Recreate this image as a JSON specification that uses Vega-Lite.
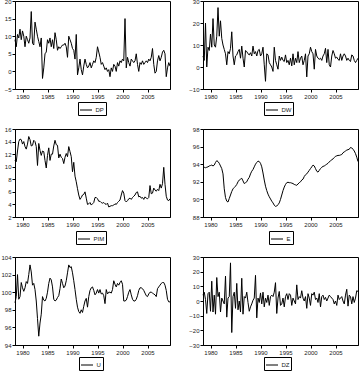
{
  "$schema": "https://vega.github.io/schema/vega-lite/v6.json",
  "padding": {"left": 0, "top": -3, "right": 0, "bottom": 0},
  "data": {"values": [
    {"t":1978.5,"DP":9,"DW":5,"PIM":11,"E":93.7,"U":98.8,"DZ":4},
    {"t":1978.75,"DP":7,"DW":3,"PIM":10.8,"E":93.65,"U":99.5,"DZ":6},
    {"t":1979,"DP":10.5,"DW":20,"PIM":12.5,"E":93.6,"U":102,"DZ":1},
    {"t":1979.25,"DP":9.5,"DW":0,"PIM":14,"E":93.65,"U":99.2,"DZ":-8.5},
    {"t":1979.5,"DP":12,"DW":9,"PIM":14.4,"E":93.7,"U":99.5,"DZ":5},
    {"t":1979.75,"DP":9,"DW":7.5,"PIM":14.3,"E":93.8,"U":101.1,"DZ":6},
    {"t":1980,"DP":11.5,"DW":15,"PIM":13.6,"E":93.85,"U":100.5,"DZ":-7},
    {"t":1980.25,"DP":10,"DW":9,"PIM":14,"E":93.9,"U":100.1,"DZ":13.5},
    {"t":1980.5,"DP":7,"DW":22,"PIM":13.2,"E":93.8,"U":100.5,"DZ":-7.5},
    {"t":1980.75,"DP":10,"DW":10,"PIM":12.8,"E":93.9,"U":101.2,"DZ":4},
    {"t":1981,"DP":9,"DW":9,"PIM":13.6,"E":94.2,"U":101,"DZ":-9},
    {"t":1981.25,"DP":8,"DW":14,"PIM":14.8,"E":94.4,"U":102,"DZ":16},
    {"t":1981.5,"DP":9.5,"DW":27,"PIM":14.3,"E":94.3,"U":103.1,"DZ":3},
    {"t":1981.75,"DP":17,"DW":14,"PIM":13.3,"E":94.1,"U":102.3,"DZ":6},
    {"t":1982,"DP":8,"DW":21,"PIM":13.4,"E":93.8,"U":100.8,"DZ":-7.5},
    {"t":1982.25,"DP":7.5,"DW":13,"PIM":14.2,"E":93.5,"U":101,"DZ":2},
    {"t":1982.5,"DP":14,"DW":10,"PIM":14,"E":92.9,"U":100.3,"DZ":0},
    {"t":1982.75,"DP":12,"DW":8,"PIM":13.2,"E":91.2,"U":99,"DZ":-2},
    {"t":1983,"DP":10,"DW":6,"PIM":10.2,"E":90.2,"U":97,"DZ":17},
    {"t":1983.25,"DP":8.5,"DW":1,"PIM":13.7,"E":89.8,"U":95,"DZ":-11},
    {"t":1983.5,"DP":7,"DW":7,"PIM":12.6,"E":89.7,"U":96.5,"DZ":2},
    {"t":1983.75,"DP":9.5,"DW":6,"PIM":11.8,"E":90.1,"U":97.5,"DZ":3},
    {"t":1984,"DP":-2,"DW":8.5,"PIM":12.5,"E":90.5,"U":99.5,"DZ":26},
    {"t":1984.25,"DP":1,"DW":16,"PIM":12.4,"E":90.9,"U":99.1,"DZ":-21.5},
    {"t":1984.5,"DP":5,"DW":5,"PIM":11,"E":91.2,"U":99,"DZ":3},
    {"t":1984.75,"DP":5.5,"DW":1,"PIM":9.8,"E":91.35,"U":99.3,"DZ":6},
    {"t":1985,"DP":9,"DW":5,"PIM":11.8,"E":91.5,"U":100,"DZ":-5},
    {"t":1985.25,"DP":8,"DW":5.5,"PIM":13,"E":91.7,"U":101,"DZ":12},
    {"t":1985.5,"DP":9.5,"DW":7,"PIM":11,"E":92,"U":101.6,"DZ":-6},
    {"t":1985.75,"DP":7,"DW":8,"PIM":12,"E":92.2,"U":101.4,"DZ":0},
    {"t":1986,"DP":9,"DW":4,"PIM":12,"E":92.3,"U":100.6,"DZ":-7.5},
    {"t":1986.25,"DP":6.5,"DW":9.5,"PIM":13.3,"E":92.4,"U":99.2,"DZ":15.5},
    {"t":1986.5,"DP":11,"DW":4,"PIM":14.2,"E":92.1,"U":99,"DZ":-9},
    {"t":1986.75,"DP":9,"DW":0,"PIM":13.5,"E":91.8,"U":99.1,"DZ":3},
    {"t":1987,"DP":6,"DW":7.5,"PIM":13.4,"E":91.9,"U":99.4,"DZ":2},
    {"t":1987.25,"DP":7,"DW":7,"PIM":11.4,"E":92,"U":99.6,"DZ":6},
    {"t":1987.5,"DP":6.5,"DW":6,"PIM":12,"E":92.3,"U":100.4,"DZ":-1},
    {"t":1987.75,"DP":7,"DW":5.5,"PIM":11.5,"E":92.5,"U":101.5,"DZ":-7},
    {"t":1988,"DP":7.5,"DW":6.5,"PIM":11.3,"E":92.9,"U":101,"DZ":-4},
    {"t":1988.25,"DP":7.5,"DW":5,"PIM":10.5,"E":93.2,"U":100.5,"DZ":-2},
    {"t":1988.5,"DP":8,"DW":9.5,"PIM":11.5,"E":93.4,"U":100.7,"DZ":0.5},
    {"t":1988.75,"DP":7,"DW":6,"PIM":12.1,"E":93.7,"U":101.3,"DZ":2},
    {"t":1989,"DP":4,"DW":7,"PIM":11.6,"E":94,"U":102.2,"DZ":17.5},
    {"t":1989.25,"DP":10,"DW":5,"PIM":13.2,"E":94.2,"U":103.1,"DZ":-11.5},
    {"t":1989.5,"DP":9,"DW":7.5,"PIM":12.4,"E":94.35,"U":102.8,"DZ":2},
    {"t":1989.75,"DP":8,"DW":8,"PIM":11.6,"E":94.3,"U":102.9,"DZ":-1},
    {"t":1990,"DP":6.5,"DW":5,"PIM":9.2,"E":94.1,"U":102.2,"DZ":5.5},
    {"t":1990.25,"DP":6,"DW":6,"PIM":10.7,"E":93.7,"U":101.3,"DZ":-2},
    {"t":1990.5,"DP":3.5,"DW":9,"PIM":8.5,"E":93,"U":100.3,"DZ":6},
    {"t":1990.75,"DP":10.5,"DW":1,"PIM":7.6,"E":92.2,"U":99.2,"DZ":-4},
    {"t":1991,"DP":-1,"DW":-6.5,"PIM":6.5,"E":91.5,"U":98.3,"DZ":2},
    {"t":1991.25,"DP":1,"DW":6,"PIM":5.5,"E":91,"U":97.8,"DZ":-1},
    {"t":1991.5,"DP":3.5,"DW":5.5,"PIM":4.8,"E":90.6,"U":97.6,"DZ":4},
    {"t":1991.75,"DP":0.5,"DW":2,"PIM":5.1,"E":90.3,"U":98,"DZ":-3},
    {"t":1992,"DP":-1,"DW":1,"PIM":5.5,"E":90.05,"U":97.7,"DZ":3},
    {"t":1992.25,"DP":1.5,"DW":0,"PIM":5.6,"E":89.8,"U":98.4,"DZ":4},
    {"t":1992.5,"DP":3.5,"DW":-2,"PIM":6,"E":89.6,"U":99,"DZ":3},
    {"t":1992.75,"DP":2,"DW":9,"PIM":5,"E":89.35,"U":99.3,"DZ":6},
    {"t":1993,"DP":1,"DW":3,"PIM":4,"E":89.2,"U":98.3,"DZ":12.5},
    {"t":1993.25,"DP":1.5,"DW":1,"PIM":4.1,"E":89.25,"U":99.5,"DZ":-8.5},
    {"t":1993.5,"DP":2.5,"DW":-1,"PIM":4.3,"E":89.4,"U":100.2,"DZ":2},
    {"t":1993.75,"DP":1,"DW":5,"PIM":3.9,"E":89.6,"U":100.5,"DZ":6.5},
    {"t":1994,"DP":2,"DW":3,"PIM":4.1,"E":90,"U":100.6,"DZ":-3},
    {"t":1994.25,"DP":3,"DW":4.5,"PIM":4.3,"E":90.5,"U":100.2,"DZ":-2},
    {"t":1994.5,"DP":2.5,"DW":3,"PIM":5.1,"E":91,"U":99.7,"DZ":2},
    {"t":1994.75,"DP":4,"DW":2.5,"PIM":5.1,"E":91.4,"U":99.9,"DZ":-4},
    {"t":1995,"DP":7,"DW":5.5,"PIM":4.9,"E":91.7,"U":100.3,"DZ":3},
    {"t":1995.25,"DP":5.5,"DW":2,"PIM":4.5,"E":91.9,"U":99.9,"DZ":5},
    {"t":1995.5,"DP":4,"DW":3,"PIM":4.5,"E":91.95,"U":100.3,"DZ":1},
    {"t":1995.75,"DP":2,"DW":1,"PIM":4.3,"E":91.9,"U":99.8,"DZ":5},
    {"t":1996,"DP":2.5,"DW":4,"PIM":4.2,"E":91.9,"U":99.9,"DZ":4},
    {"t":1996.25,"DP":1.5,"DW":0.5,"PIM":4.3,"E":91.85,"U":99.6,"DZ":-3},
    {"t":1996.5,"DP":0.5,"DW":6,"PIM":4.1,"E":91.8,"U":98.7,"DZ":2},
    {"t":1996.75,"DP":1,"DW":1,"PIM":4,"E":91.7,"U":100.3,"DZ":0},
    {"t":1997,"DP":0,"DW":4,"PIM":4.2,"E":91.65,"U":99.8,"DZ":-2},
    {"t":1997.25,"DP":0.5,"DW":2,"PIM":3.6,"E":91.6,"U":100,"DZ":11},
    {"t":1997.5,"DP":-1.5,"DW":7,"PIM":3.7,"E":91.75,"U":100,"DZ":1},
    {"t":1997.75,"DP":1,"DW":2,"PIM":3.8,"E":91.9,"U":99.9,"DZ":3},
    {"t":1998,"DP":0,"DW":4,"PIM":3.8,"E":92,"U":100.3,"DZ":2},
    {"t":1998.25,"DP":2,"DW":5,"PIM":3.9,"E":92.2,"U":101.3,"DZ":7},
    {"t":1998.5,"DP":1.5,"DW":1,"PIM":4.1,"E":92.3,"U":100.9,"DZ":2},
    {"t":1998.75,"DP":0,"DW":3,"PIM":4,"E":92.6,"U":100.6,"DZ":0},
    {"t":1999,"DP":2.5,"DW":6,"PIM":4.3,"E":92.8,"U":101,"DZ":3},
    {"t":1999.25,"DP":1.5,"DW":-4.5,"PIM":4.5,"E":92.9,"U":100.8,"DZ":-5},
    {"t":1999.5,"DP":3,"DW":5,"PIM":4.7,"E":93.1,"U":101.1,"DZ":5},
    {"t":1999.75,"DP":2.5,"DW":6,"PIM":5.5,"E":93.3,"U":101.3,"DZ":2},
    {"t":2000,"DP":3.5,"DW":9,"PIM":6.2,"E":93.5,"U":100.9,"DZ":-3},
    {"t":2000.25,"DP":3,"DW":7,"PIM":5.8,"E":93.7,"U":99,"DZ":5},
    {"t":2000.5,"DP":15,"DW":6,"PIM":4.6,"E":93.9,"U":99,"DZ":4},
    {"t":2000.75,"DP":1,"DW":-1,"PIM":4.4,"E":93.8,"U":99.1,"DZ":6},
    {"t":2001,"DP":4,"DW":8,"PIM":4.6,"E":93.5,"U":99.5,"DZ":1},
    {"t":2001.25,"DP":2.5,"DW":5,"PIM":4.9,"E":93.2,"U":100,"DZ":2},
    {"t":2001.5,"DP":1.5,"DW":4,"PIM":5,"E":93.1,"U":100.3,"DZ":-1},
    {"t":2001.75,"DP":3.5,"DW":3.5,"PIM":4.8,"E":93.3,"U":99.7,"DZ":5},
    {"t":2002,"DP":3,"DW":4,"PIM":5.1,"E":93.5,"U":99.2,"DZ":-4},
    {"t":2002.25,"DP":2.5,"DW":3,"PIM":5.3,"E":93.65,"U":99,"DZ":3},
    {"t":2002.5,"DP":3,"DW":5,"PIM":5.5,"E":93.75,"U":99,"DZ":4},
    {"t":2002.75,"DP":5,"DW":6,"PIM":5.9,"E":93.8,"U":99.2,"DZ":1},
    {"t":2003,"DP":2,"DW":8.5,"PIM":6,"E":93.9,"U":99.6,"DZ":2.5},
    {"t":2003.25,"DP":0,"DW":2,"PIM":5.2,"E":94,"U":100.2,"DZ":0},
    {"t":2003.5,"DP":2.5,"DW":8,"PIM":5.3,"E":94.1,"U":100.5,"DZ":2},
    {"t":2003.75,"DP":2,"DW":1,"PIM":5,"E":94.25,"U":100.5,"DZ":4},
    {"t":2004,"DP":3,"DW":0,"PIM":5.1,"E":94.4,"U":100.4,"DZ":3},
    {"t":2004.25,"DP":2,"DW":5,"PIM":4.8,"E":94.5,"U":100.2,"DZ":2},
    {"t":2004.5,"DP":2.5,"DW":7.5,"PIM":5.2,"E":94.6,"U":99.9,"DZ":1},
    {"t":2004.75,"DP":3,"DW":6,"PIM":5,"E":94.75,"U":99.6,"DZ":-2},
    {"t":2005,"DP":2.5,"DW":4,"PIM":4.9,"E":94.9,"U":99.5,"DZ":0},
    {"t":2005.25,"DP":3.5,"DW":4.5,"PIM":5.1,"E":94.95,"U":99.8,"DZ":-3},
    {"t":2005.5,"DP":3,"DW":3.5,"PIM":7,"E":95,"U":100,"DZ":4},
    {"t":2005.75,"DP":4,"DW":3,"PIM":5.7,"E":95,"U":100,"DZ":1},
    {"t":2006,"DP":6.5,"DW":6,"PIM":5.8,"E":95.05,"U":99.9,"DZ":2},
    {"t":2006.25,"DP":2,"DW":3,"PIM":6.6,"E":95.1,"U":99.8,"DZ":3},
    {"t":2006.5,"DP":-0.5,"DW":5,"PIM":6.3,"E":95.3,"U":99.7,"DZ":0},
    {"t":2006.75,"DP":0,"DW":6,"PIM":6.1,"E":95.4,"U":99.5,"DZ":-2},
    {"t":2007,"DP":3,"DW":5,"PIM":6.4,"E":95.5,"U":100.4,"DZ":4},
    {"t":2007.25,"DP":4.5,"DW":3,"PIM":6.2,"E":95.6,"U":100.6,"DZ":8},
    {"t":2007.5,"DP":3,"DW":4,"PIM":7.2,"E":95.65,"U":100.8,"DZ":-3.5},
    {"t":2007.75,"DP":4,"DW":3,"PIM":6.6,"E":95.7,"U":101,"DZ":4},
    {"t":2008,"DP":5.5,"DW":2.5,"PIM":7.3,"E":95.9,"U":101.1,"DZ":3},
    {"t":2008.25,"DP":6,"DW":5.5,"PIM":9.9,"E":95.85,"U":101.1,"DZ":-2},
    {"t":2008.5,"DP":5,"DW":5,"PIM":7.2,"E":95.7,"U":100.8,"DZ":3},
    {"t":2008.75,"DP":-1.5,"DW":3,"PIM":5.3,"E":95.5,"U":100.2,"DZ":-1},
    {"t":2009,"DP":1,"DW":2,"PIM":4.7,"E":95.2,"U":99.2,"DZ":2},
    {"t":2009.25,"DP":2.5,"DW":3,"PIM":4.6,"E":94.8,"U":98.9,"DZ":7},
    {"t":2009.5,"DP":1.5,"DW":4,"PIM":4.9,"E":94.3,"U":98.9,"DZ":6.5}
  ]},
  "config": {
    "font": "Liberation Sans",
    "view": {"stroke": "black", "strokeWidth": 1},
    "axis": {"labelFontSize": 6, "labelColor": "#222", "labelFont": "Liberation Sans", "domainColor": "black", "tickColor": "black", "tickSize": 3, "labelPadding": 1, "grid": false, "title": null},
    "legend": {"strokeColor": "black", "fillColor": "white", "padding": 1.5, "symbolType": "stroke", "symbolSize": 144, "symbolStrokeWidth": 1, "labelFontSize": 6, "labelFont": "Liberation Sans", "labelColor": "#222", "title": null, "symbolOffset": 0, "labelOffset": 3, "direction": "horizontal"}
  },
  "columns": 2,
  "spacing": {"row": 40, "column": 33},
  "bounds": "flush",
  "resolve": {"scale": {"y": "independent", "color": "independent"}, "legend": {"color": "independent"}},
  "concat": [
    {"width": 155, "height": 88, "mark": {"type": "line", "strokeWidth": 1},
     "encoding": {
       "x": {"field": "t", "type": "quantitative", "scale": {"domain": [1978.5, 2009.5], "nice": false, "zero": false}, "axis": {"values": [1980,1985,1990,1995,2000,2005], "format": "d"}},
       "y": {"field": "DP", "type": "quantitative", "scale": {"domain": [-5, 20], "nice": false, "zero": false}, "axis": {"values": [-5,0,5,10,15,20]}},
       "color": {"datum": "DP", "scale": {"range": ["black"]}, "legend": {"orient": "none", "legendX": 63, "legendY": 101}}
     }},
    {"width": 155, "height": 88, "mark": {"type": "line", "strokeWidth": 1},
     "encoding": {
       "x": {"field": "t", "type": "quantitative", "scale": {"domain": [1978.5, 2009.5], "nice": false, "zero": false}, "axis": {"values": [1980,1985,1990,1995,2000,2005], "format": "d"}},
       "y": {"field": "DW", "type": "quantitative", "scale": {"domain": [-10, 30], "nice": false, "zero": false}, "axis": {"values": [-10,0,10,20,30]}},
       "color": {"datum": "DW", "scale": {"range": ["black"]}, "legend": {"orient": "none", "legendX": 61, "legendY": 101}}
     }},
    {"width": 155, "height": 88, "mark": {"type": "line", "strokeWidth": 1},
     "encoding": {
       "x": {"field": "t", "type": "quantitative", "scale": {"domain": [1978.5, 2009.5], "nice": false, "zero": false}, "axis": {"values": [1980,1985,1990,1995,2000,2005], "format": "d"}},
       "y": {"field": "PIM", "type": "quantitative", "scale": {"domain": [2, 16], "nice": false, "zero": false}, "axis": {"values": [2,4,6,8,10,12,14,16]}},
       "color": {"datum": "PIM", "scale": {"range": ["black"]}, "legend": {"orient": "none", "legendX": 61, "legendY": 102}}
     }},
    {"width": 155, "height": 88, "mark": {"type": "line", "strokeWidth": 1},
     "encoding": {
       "x": {"field": "t", "type": "quantitative", "scale": {"domain": [1978.5, 2009.5], "nice": false, "zero": false}, "axis": {"values": [1980,1985,1990,1995,2000,2005], "format": "d"}},
       "y": {"field": "E", "type": "quantitative", "scale": {"domain": [88, 98], "nice": false, "zero": false}, "axis": {"values": [88,90,92,94,96,98]}},
       "color": {"datum": "E", "scale": {"range": ["black"]}, "legend": {"orient": "none", "legendX": 66, "legendY": 102}}
     }},
    {"width": 155, "height": 88, "mark": {"type": "line", "strokeWidth": 1},
     "encoding": {
       "x": {"field": "t", "type": "quantitative", "scale": {"domain": [1978.5, 2009.5], "nice": false, "zero": false}, "axis": {"values": [1980,1985,1990,1995,2000,2005], "format": "d"}},
       "y": {"field": "U", "type": "quantitative", "scale": {"domain": [94, 104], "nice": false, "zero": false}, "axis": {"values": [94,96,98,100,102,104]}},
       "color": {"datum": "U", "scale": {"range": ["black"]}, "legend": {"orient": "none", "legendX": 64, "legendY": 100}}
     }},
    {"width": 155, "height": 88, "mark": {"type": "line", "strokeWidth": 1},
     "encoding": {
       "x": {"field": "t", "type": "quantitative", "scale": {"domain": [1978.5, 2009.5], "nice": false, "zero": false}, "axis": {"values": [1980,1985,1990,1995,2000,2005], "format": "d"}},
       "y": {"field": "DZ", "type": "quantitative", "scale": {"domain": [-30, 30], "nice": false, "zero": false}, "axis": {"values": [-30,-20,-10,0,10,20,30]}},
       "color": {"datum": "DZ", "scale": {"range": ["black"]}, "legend": {"orient": "none", "legendX": 61, "legendY": 100}}
     }}
  ]
}
